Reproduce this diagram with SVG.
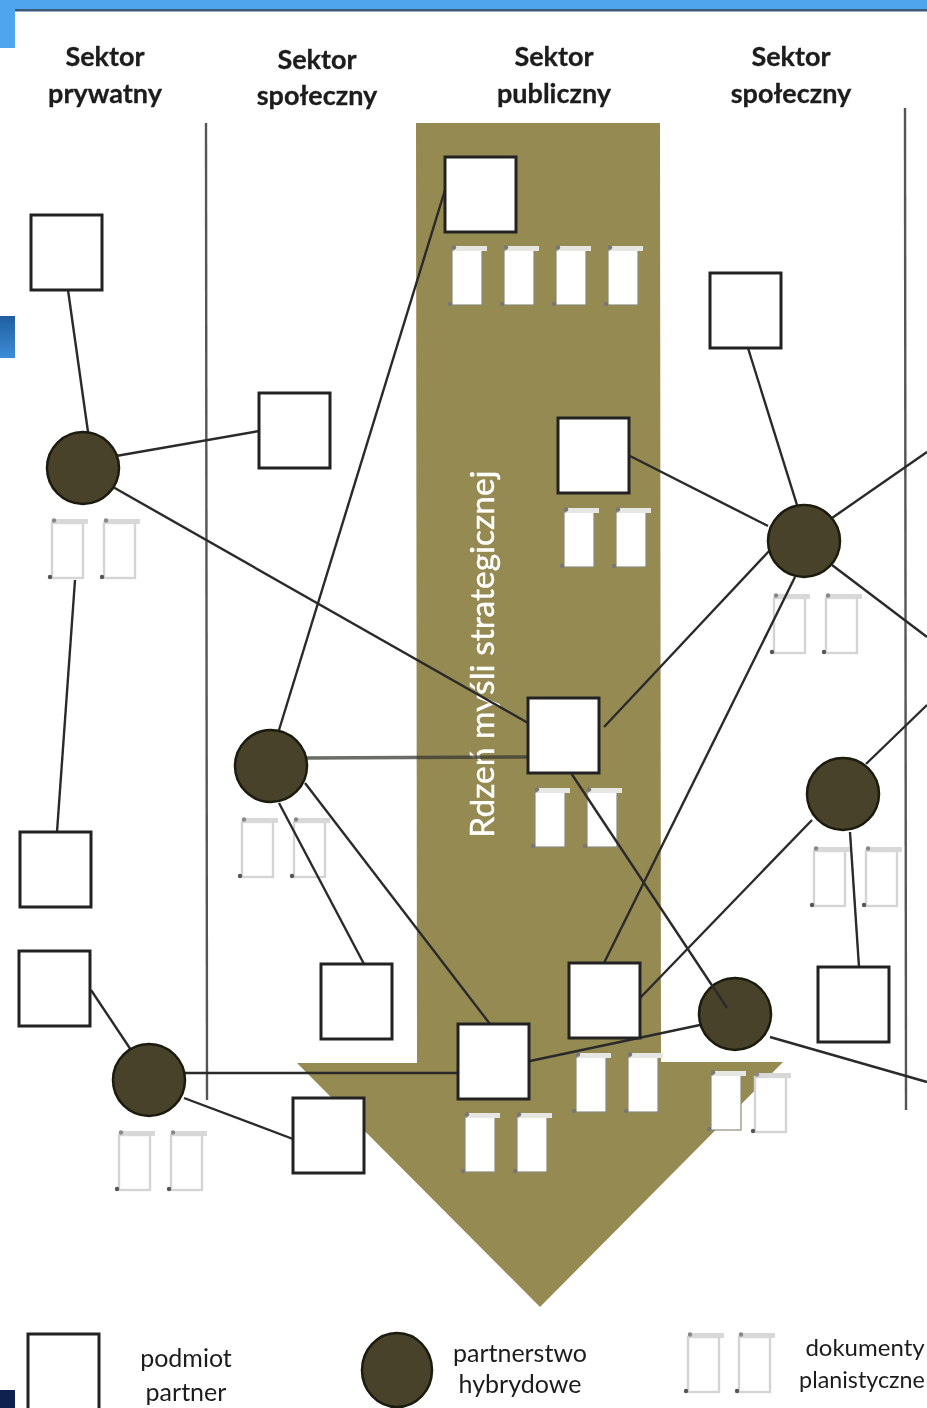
<svg xmlns="http://www.w3.org/2000/svg" xmlns:xlink="http://www.w3.org/1999/xlink" width="927" height="1408" viewBox="0 0 927 1408">
<style>
text{font-family:"Lato","Open Sans","Liberation Sans",sans-serif;text-anchor:middle;fill:#1c1c1c}
.h{font-size:27px;font-weight:700;stroke:#1c1c1c;stroke-width:.3}
.l{font-size:25px}
.sq{fill:#fff;stroke:#222;stroke-width:3}
.ci{fill:#4a422a;stroke:#1c1a10;stroke-width:2.5}
.c{stroke:#2a2a2a;stroke-width:2.4;fill:none}
.v{stroke:#555;stroke-width:2.4;fill:none}
</style>
<defs>
<filter id="b" x="-5%" y="-5%" width="110%" height="110%"><feGaussianBlur stdDeviation="0.6"/></filter>
<linearGradient id="g" x1="0" y1="0" x2="0" y2="1"><stop offset="0" stop-color="#1f5f9f"/><stop offset="1" stop-color="#3f8cd8"/></linearGradient>
<g id="dw">
<rect x="1" y="5" width="30" height="55" fill="#fff" stroke="#8a8a78" stroke-width="1.2"/>
<rect x="3" y="1" width="33" height="5" fill="#e6e6e2"/>
<circle cx="3" cy="2.500" r="2.200" fill="#777"/><circle cx="-1" cy="59" r="2.200" fill="#777"/>
</g>
<g id="dg">
<rect x="1" y="5" width="31" height="55" fill="#fff" stroke="#d4d4d4" stroke-width="2.400"/>
<rect x="3" y="1" width="34" height="5" fill="#d8d8d8"/>
<circle cx="3" cy="2.500" r="2.200" fill="#888"/><circle cx="-1" cy="59" r="2.200" fill="#555"/>
</g>
</defs>
<rect width="927" height="1408" fill="#fff"/>
<g filter="url(#b)">
<g id="frame">
<rect x="0" y="0" width="927" height="9" fill="#4ea6ee"/>
<rect x="15" y="9" width="912" height="2.500" fill="#3a5a78"/>
<rect x="0" y="0" width="15" height="48" fill="#4ea6ee"/>
<rect x="0" y="316" width="15" height="42" fill="url(#g)"/>
<rect x="0" y="1390" width="15" height="18" fill="#0a2050"/>
</g>
<polygon id="arrow" points="416,123 660,123 661,1062 783,1062 540,1307 297,1063 417,1063" fill="#968a52"/>
<g id="titles">
<text class="h" x="105" y="66">Sektor</text><text class="h" x="105" y="103">prywatny</text>
<text class="h" x="317" y="69">Sektor</text><text class="h" x="317" y="105">społeczny</text>
<text class="h" x="554" y="66">Sektor</text><text class="h" x="554" y="103">publiczny</text>
<text class="h" x="791" y="66">Sektor</text><text class="h" x="791" y="103">społeczny</text>
</g>
<text id="core" transform="translate(494,654) rotate(-90)" font-size="33.500" style="fill:#fff;stroke:#fff;stroke-width:.4">Rdzeń myśli strategicznej</text>
<g id="dividers">
<line class="v" x1="206" y1="123" x2="207" y2="1100"/>
<line class="v" x1="905" y1="108" x2="906" y2="1110"/>
</g>
<g id="docs">
<use xlink:href="#dw" x="451" y="245"/><use xlink:href="#dw" x="503" y="245"/><use xlink:href="#dw" x="555" y="245"/><use xlink:href="#dw" x="607" y="245"/>
<use xlink:href="#dw" x="563" y="507"/><use xlink:href="#dw" x="615" y="507"/>
<use xlink:href="#dw" x="534" y="787"/><use xlink:href="#dw" x="586" y="787"/>
<use xlink:href="#dw" x="575" y="1052"/><use xlink:href="#dw" x="627" y="1052"/>
<use xlink:href="#dw" x="464" y="1112"/><use xlink:href="#dw" x="516" y="1112"/>
<use xlink:href="#dw" x="710" y="1070"/><use xlink:href="#dg" x="754" y="1072"/>
<use xlink:href="#dg" x="51" y="518"/><use xlink:href="#dg" x="103" y="518"/>
<use xlink:href="#dg" x="773" y="593"/><use xlink:href="#dg" x="825" y="593"/>
<use xlink:href="#dg" x="241" y="817"/><use xlink:href="#dg" x="293" y="817"/>
<use xlink:href="#dg" x="813" y="846"/><use xlink:href="#dg" x="865" y="846"/>
<use xlink:href="#dg" x="118" y="1130"/><use xlink:href="#dg" x="170" y="1130"/>
<use xlink:href="#dg" x="687" y="1332"/><use xlink:href="#dg" x="738" y="1332"/>
</g>
<g id="connectors">
<line class="c" x1="68" y1="290" x2="88" y2="432"/>
<line class="c" x1="116" y1="456" x2="259" y2="431"/>
<line class="c" x1="113" y1="487" x2="528" y2="723"/>
<line class="c" x1="75" y1="580" x2="57" y2="832"/>
<line class="c" x1="279" y1="730" x2="445" y2="190"/>
<line x1="305" y1="758" x2="528" y2="757" stroke="#3a3a34" stroke-width="3.500" stroke-opacity=".75"/>
<line class="c" x1="279" y1="803" x2="364" y2="964"/>
<line class="c" x1="305" y1="783" x2="490" y2="1024"/>
<line class="c" x1="630" y1="456" x2="768" y2="526"/>
<line class="c" x1="604" y1="727" x2="770" y2="550"/>
<line class="c" x1="604" y1="963" x2="795" y2="577"/>
<line class="c" x1="748" y1="348" x2="797" y2="505"/>
<line class="c" x1="832" y1="518" x2="927" y2="452"/>
<line class="c" x1="832" y1="565" x2="927" y2="637"/>
<line class="c" x1="866" y1="764" x2="927" y2="705"/>
<line class="c" x1="640" y1="998" x2="812" y2="820"/>
<line class="c" x1="850" y1="832" x2="859" y2="967"/>
<line class="c" x1="530" y1="1061" x2="700" y2="1025"/>
<line class="c" x1="770" y1="1037" x2="927" y2="1082"/>
<line class="c" x1="91" y1="990" x2="131" y2="1050"/>
<line class="c" x1="184" y1="1073" x2="458" y2="1073"/>
<line class="c" x1="184" y1="1098" x2="293" y2="1139"/>
</g>
<g id="n1"><rect class="sq" x="31" y="215" width="71" height="75"/></g>
<g id="n2"><rect class="sq" x="445" y="157" width="71" height="75"/></g>
<g id="n3"><rect class="sq" x="710" y="273" width="71" height="75"/></g>
<g id="n4"><rect class="sq" x="259" y="393" width="71" height="75"/></g>
<g id="n5"><rect class="sq" x="558" y="418" width="71" height="75"/></g>
<g id="n6"><rect class="sq" x="528" y="698" width="71" height="75"/></g>
<g id="n7"><rect class="sq" x="20" y="832" width="71" height="75"/></g>
<g id="n8"><rect class="sq" x="19" y="951" width="71" height="75"/></g>
<g id="n9"><rect class="sq" x="321" y="964" width="71" height="75"/></g>
<g id="n10"><rect class="sq" x="569" y="963" width="71" height="75"/></g>
<g id="n11"><rect class="sq" x="818" y="967" width="71" height="75"/></g>
<g id="n12"><rect class="sq" x="458" y="1024" width="71" height="75"/></g>
<g id="n13"><rect class="sq" x="293" y="1098" width="71" height="75"/></g>
<g id="h1"><circle class="ci" cx="83" cy="468" r="36"/></g>
<g id="h2"><circle class="ci" cx="804" cy="541" r="36"/></g>
<g id="h3"><circle class="ci" cx="271" cy="766" r="36"/></g>
<g id="h4"><circle class="ci" cx="843" cy="794" r="36"/></g>
<g id="h5"><circle class="ci" cx="735" cy="1014" r="36"/></g>
<g id="h6"><circle class="ci" cx="149" cy="1080" r="36"/></g>
<line class="c" x1="571" y1="773" x2="727" y2="1008"/>
<g id="legend">
<rect class="sq" x="28" y="1334" width="71" height="78"/>
<text class="l" x="186" y="1367">podmiot</text><text class="l" x="186" y="1401">partner</text>
<ellipse class="ci" cx="397" cy="1370" rx="35" ry="37"/>
<text class="l" x="520" y="1362">partnerstwo</text><text class="l" x="520" y="1393">hybrydowe</text>
<text class="l" x="865" y="1356" style="font-size:24px">dokumenty</text><text class="l" x="862" y="1388" style="font-size:23.300px">planistyczne</text>
</g>
</g>
</svg>
